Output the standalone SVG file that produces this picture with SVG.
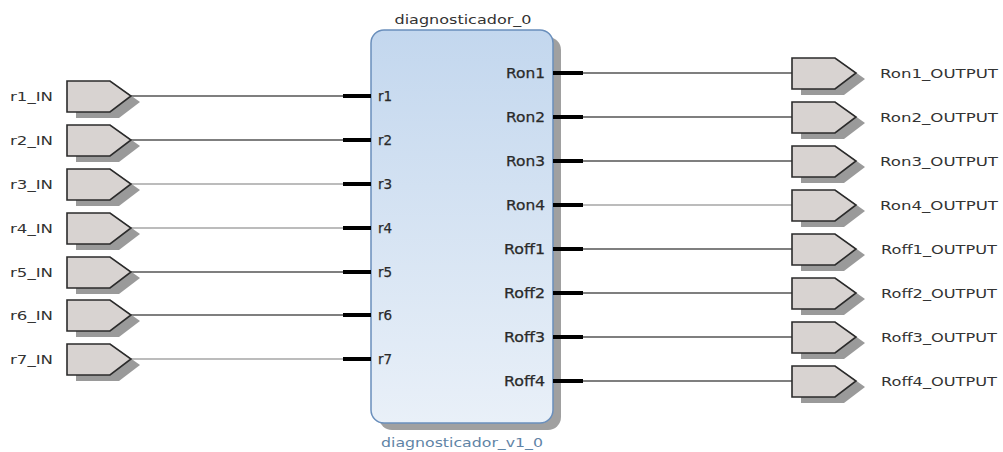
<svg xmlns="http://www.w3.org/2000/svg" xmlns:xlink="http://www.w3.org/1999/xlink" width="1003" height="452" viewBox="0 0 1003 452">
<defs>
<linearGradient id="blk" x1="0" y1="0" x2="0" y2="1">
<stop offset="0" stop-color="#c3d7ee"/>
<stop offset="1" stop-color="#e9f0f8"/>
</linearGradient>
<path id="portShape" d="M0,-15 H43 L64,0 L43,16 H0 Z"/>
</defs>
<style>
text{font-family:"DejaVu Sans","Liberation Sans",sans-serif;fill:#333;}
.lbl{font-size:13px;}
.pin{font-size:13.5px;fill:#2a2a2a;stroke:#2a2a2a;stroke-width:0.25;}
.shadow{fill:#9a9a9a;}
.port{fill:#d8d3d1;stroke:#2b2b2b;stroke-width:1.6;}
.wire{stroke:#555;stroke-width:1.3;fill:none;}
.wire2{stroke:#7a7a7a;stroke-width:1.2;fill:none;}
.stub{stroke:#000;stroke-width:4;}
</style>
<rect width="1003" height="452" fill="#fff"/>

<g id="connectors">
<line class="wire" x1="130" y1="96" x2="343" y2="96"/>
<line class="wire" x1="130" y1="140" x2="343" y2="140"/>
<line class="wire2" x1="130" y1="184" x2="343" y2="184"/>
<line class="wire2" x1="130" y1="228" x2="343" y2="228"/>
<line class="wire" x1="130" y1="272" x2="343" y2="272"/>
<line class="wire" x1="130" y1="315" x2="343" y2="315"/>
<line class="wire2" x1="130" y1="359" x2="343" y2="359"/>
<line class="wire" x1="583" y1="73" x2="792" y2="73"/>
<line class="wire" x1="583" y1="117" x2="792" y2="117"/>
<line class="wire" x1="583" y1="161" x2="792" y2="161"/>
<line class="wire2" x1="583" y1="205" x2="792" y2="205"/>
<line class="wire" x1="583" y1="249" x2="792" y2="249"/>
<line class="wire" x1="583" y1="293" x2="792" y2="293"/>
<line class="wire" x1="583" y1="337" x2="792" y2="337"/>
<line class="wire" x1="583" y1="381" x2="792" y2="381"/>
</g>

<g id="diagnosticador_0">
<rect x="379" y="37" width="182" height="393" rx="13" fill="#a0a0a0"/>
<rect x="371" y="30" width="182" height="393" rx="13" fill="url(#blk)" stroke="#6a8fbc" stroke-width="1.5"/>
<text class="lbl" x="463" y="24" text-anchor="middle" textLength="137" lengthAdjust="spacingAndGlyphs">diagnosticador_0</text>
<text class="lbl" x="462" y="447" text-anchor="middle" textLength="162" lengthAdjust="spacingAndGlyphs" style="fill:#5f84a6">diagnosticador_v1_0</text>
<line class="stub" x1="343" y1="96" x2="371" y2="96"/>
<line class="stub" x1="343" y1="140" x2="371" y2="140"/>
<line class="stub" x1="343" y1="184" x2="371" y2="184"/>
<line class="stub" x1="343" y1="228" x2="371" y2="228"/>
<line class="stub" x1="343" y1="272" x2="371" y2="272"/>
<line class="stub" x1="343" y1="315" x2="371" y2="315"/>
<line class="stub" x1="343" y1="359" x2="371" y2="359"/>
<line class="stub" x1="553" y1="73" x2="583" y2="73"/>
<line class="stub" x1="553" y1="117" x2="583" y2="117"/>
<line class="stub" x1="553" y1="161" x2="583" y2="161"/>
<line class="stub" x1="553" y1="205" x2="583" y2="205"/>
<line class="stub" x1="553" y1="249" x2="583" y2="249"/>
<line class="stub" x1="553" y1="293" x2="583" y2="293"/>
<line class="stub" x1="553" y1="337" x2="583" y2="337"/>
<line class="stub" x1="553" y1="381" x2="583" y2="381"/>
<text class="pin" x="378" y="101">r1</text>
<text class="pin" x="378" y="145">r2</text>
<text class="pin" x="378" y="189">r3</text>
<text class="pin" x="378" y="233">r4</text>
<text class="pin" x="378" y="277">r5</text>
<text class="pin" x="378" y="320">r6</text>
<text class="pin" x="378" y="364">r7</text>
<text class="pin" x="545" y="78" text-anchor="end" textLength="39" lengthAdjust="spacingAndGlyphs">Ron1</text>
<text class="pin" x="545" y="122" text-anchor="end" textLength="39" lengthAdjust="spacingAndGlyphs">Ron2</text>
<text class="pin" x="545" y="166" text-anchor="end" textLength="39" lengthAdjust="spacingAndGlyphs">Ron3</text>
<text class="pin" x="545" y="210" text-anchor="end" textLength="39" lengthAdjust="spacingAndGlyphs">Ron4</text>
<text class="pin" x="545" y="254" text-anchor="end" textLength="41" lengthAdjust="spacingAndGlyphs">Roff1</text>
<text class="pin" x="545" y="298" text-anchor="end" textLength="41" lengthAdjust="spacingAndGlyphs">Roff2</text>
<text class="pin" x="545" y="342" text-anchor="end" textLength="41" lengthAdjust="spacingAndGlyphs">Roff3</text>
<text class="pin" x="545" y="386" text-anchor="end" textLength="41" lengthAdjust="spacingAndGlyphs">Roff4</text>
</g>

<g id="r1_IN"><use href="#portShape" class="shadow" x="76" y="102"/><use href="#portShape" class="port" x="67" y="96"/><text class="lbl" x="10" y="101" textLength="43" lengthAdjust="spacingAndGlyphs">r1_IN</text></g>
<g id="r2_IN"><use href="#portShape" class="shadow" x="76" y="146"/><use href="#portShape" class="port" x="67" y="140"/><text class="lbl" x="10" y="145" textLength="43" lengthAdjust="spacingAndGlyphs">r2_IN</text></g>
<g id="r3_IN"><use href="#portShape" class="shadow" x="76" y="190"/><use href="#portShape" class="port" x="67" y="184"/><text class="lbl" x="10" y="189" textLength="43" lengthAdjust="spacingAndGlyphs">r3_IN</text></g>
<g id="r4_IN"><use href="#portShape" class="shadow" x="76" y="234"/><use href="#portShape" class="port" x="67" y="228"/><text class="lbl" x="10" y="233" textLength="43" lengthAdjust="spacingAndGlyphs">r4_IN</text></g>
<g id="r5_IN"><use href="#portShape" class="shadow" x="76" y="278"/><use href="#portShape" class="port" x="67" y="272"/><text class="lbl" x="10" y="277" textLength="43" lengthAdjust="spacingAndGlyphs">r5_IN</text></g>
<g id="r6_IN"><use href="#portShape" class="shadow" x="76" y="321"/><use href="#portShape" class="port" x="67" y="315"/><text class="lbl" x="10" y="320" textLength="43" lengthAdjust="spacingAndGlyphs">r6_IN</text></g>
<g id="r7_IN"><use href="#portShape" class="shadow" x="76" y="365"/><use href="#portShape" class="port" x="67" y="359"/><text class="lbl" x="10" y="364" textLength="43" lengthAdjust="spacingAndGlyphs">r7_IN</text></g>

<g id="Ron1_OUTPUT"><use href="#portShape" class="shadow" x="801" y="79"/><use href="#portShape" class="port" x="792" y="73"/><text class="lbl" x="880" y="78" textLength="118" lengthAdjust="spacingAndGlyphs">Ron1_OUTPUT</text></g>
<g id="Ron2_OUTPUT"><use href="#portShape" class="shadow" x="801" y="123"/><use href="#portShape" class="port" x="792" y="117"/><text class="lbl" x="880" y="122" textLength="118" lengthAdjust="spacingAndGlyphs">Ron2_OUTPUT</text></g>
<g id="Ron3_OUTPUT"><use href="#portShape" class="shadow" x="801" y="167"/><use href="#portShape" class="port" x="792" y="161"/><text class="lbl" x="880" y="166" textLength="118" lengthAdjust="spacingAndGlyphs">Ron3_OUTPUT</text></g>
<g id="Ron4_OUTPUT"><use href="#portShape" class="shadow" x="801" y="211"/><use href="#portShape" class="port" x="792" y="205"/><text class="lbl" x="880" y="210" textLength="118" lengthAdjust="spacingAndGlyphs">Ron4_OUTPUT</text></g>
<g id="Roff1_OUTPUT"><use href="#portShape" class="shadow" x="801" y="255"/><use href="#portShape" class="port" x="792" y="249"/><text class="lbl" x="881" y="254" textLength="116" lengthAdjust="spacingAndGlyphs">Roff1_OUTPUT</text></g>
<g id="Roff2_OUTPUT"><use href="#portShape" class="shadow" x="801" y="299"/><use href="#portShape" class="port" x="792" y="293"/><text class="lbl" x="881" y="298" textLength="116" lengthAdjust="spacingAndGlyphs">Roff2_OUTPUT</text></g>
<g id="Roff3_OUTPUT"><use href="#portShape" class="shadow" x="801" y="343"/><use href="#portShape" class="port" x="792" y="337"/><text class="lbl" x="881" y="342" textLength="116" lengthAdjust="spacingAndGlyphs">Roff3_OUTPUT</text></g>
<g id="Roff4_OUTPUT"><use href="#portShape" class="shadow" x="801" y="387"/><use href="#portShape" class="port" x="792" y="381"/><text class="lbl" x="881" y="386" textLength="116" lengthAdjust="spacingAndGlyphs">Roff4_OUTPUT</text></g>
</svg>
